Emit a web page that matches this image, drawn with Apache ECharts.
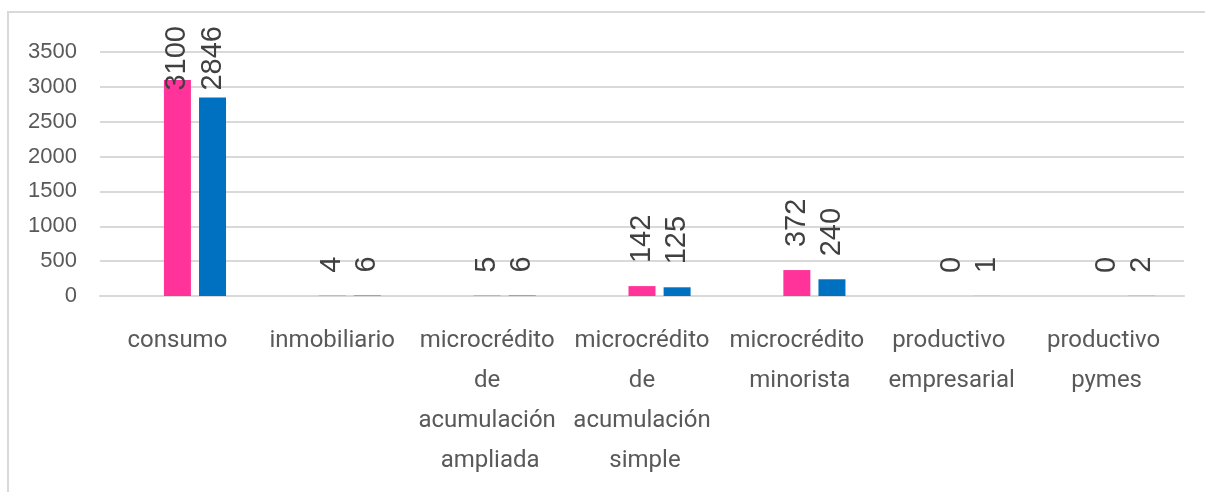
<!DOCTYPE html>
<html>
<head>
<meta charset="utf-8">
<script src="https://cdn.jsdelivr.net/npm/echarts@6/dist/echarts.min.js"></script>
<style>
html,body{margin:0;padding:0;background:#fff;}
#chart{width:1205px;height:492px;}
</style>
</head>
<body>
<div id="chart"></div>
<script>
const categories = ['consumo', 'inmobiliario', 'microcrédito de acumulación ampliada', 'microcrédito de acumulación simple', 'microcrédito minorista', 'productivo empresarial', 'productivo pymes'];
const seriesPink = [3100, 4, 5, 142, 372, 0, 0];
const seriesBlue = [2846, 6, 6, 125, 240, 1, 2];
const seriesEmpty = [];
const yTicks = [0, 500, 1000, 1500, 2000, 2500, 3000, 3500];

const chart = echarts.init(document.getElementById('chart'), null, {renderer: 'canvas'});

const valueLabel = {
  show: true,
  position: 'top',
  distance: 23,
  rotate: 90,
  align: 'left',
  verticalAlign: 'middle',
  color: '#404040',
  fontFamily: 'Liberation Sans',
  fontSize: 29
};

chart.setOption({
  animation: false,
  graphic: [{
    type: 'rect',
    shape: {x: 8, y: 12, width: 1400, height: 700},
    style: {fill: 'none', stroke: '#D9D9D9', lineWidth: 2},
    silent: true
  }],
  grid: {left: 100, right: 21, top: 52, bottom: 196},
  xAxis: {
    type: 'category',
    data: categories,
    axisLine: {show: true, lineStyle: {color: '#D9D9D9', width: 2}},
    axisTick: {show: false},
    axisLabel: {
      interval: 0,
      margin: 25,
      color: '#595959',
      fontFamily: 'Roboto',
      fontSize: 24,
      lineHeight: 40,
      width: 150,
      overflow: 'break'
    }
  },
  yAxis: {
    type: 'value',
    min: yTicks[0],
    max: yTicks[yTicks.length - 1],
    interval: yTicks[1] - yTicks[0],
    axisLine: {show: false},
    axisTick: {show: false},
    splitLine: {lineStyle: {color: '#D9D9D9', width: 2}},
    axisLabel: {
      margin: 23,
      color: '#595959',
      fontFamily: 'Liberation Sans',
      fontSize: 22,
      formatter: function (v) { return String(v); }
    }
  },
  series: [
    {type: 'bar', name: '', data: seriesEmpty, barWidth: 27, barGap: '30%', silent: true},
    {type: 'bar', name: 'pink', data: seriesPink, barWidth: 27, barGap: '30%',
     itemStyle: {color: '#FF3399'}, label: valueLabel},
    {type: 'bar', name: 'blue', data: seriesBlue, barWidth: 27, barGap: '30%',
     itemStyle: {color: '#0070C0'}, label: valueLabel}
  ],
  labelLayout: function (params) {
    const r = params.labelRect;
    if (r.y < 25) {
      return {y: 26 + r.height};
    }
    return {};
  }
});
</script>
</body>
</html>
